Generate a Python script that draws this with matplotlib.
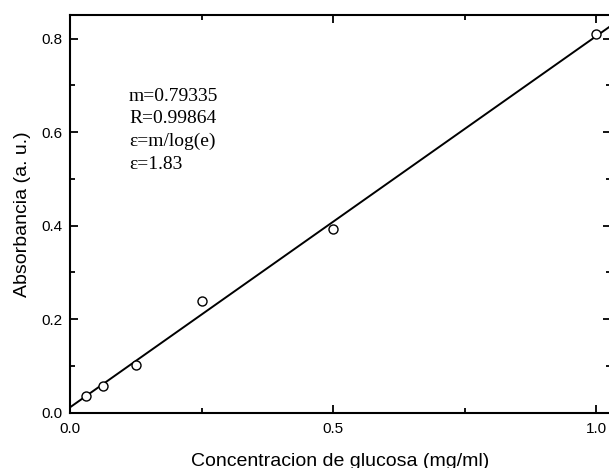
import numpy as np
import matplotlib
matplotlib.use("Agg")
import matplotlib.pyplot as plt
from matplotlib.ticker import MultipleLocator

# concentration (mg/ml) and absorbance
conc = [0.03125, 0.0625, 0.125, 0.25, 0.5, 1.0]
absorb = [0.035, 0.057, 0.103, 0.238, 0.392, 0.81]
fit_text = ["m=0.79335", "R=0.99864", "\u03b5=m/log(e)", "\u03b5=1.83"]

plt.rcParams['font.family'] = ['Liberation Sans', 'DejaVu Sans']

fig = plt.figure(figsize=(6.09, 4.68), dpi=100)
ax = fig.add_axes([70 / 609, 55.3 / 468, 541 / 609, 398 / 468])

slope, icpt = np.polyfit(conc, absorb, 1)
xmax = 1.0285
xs = np.array([0.0, xmax])
ax.plot(xs, 0.79335 * xs + icpt, color='black', lw=1.4)
ax.plot(conc, absorb, 'o', mfc='white', mec='black', ms=6.5, mew=1.0)

ax.set_xlim(0, xmax)
ax.set_ylim(0, 0.851)
ax.xaxis.set_major_locator(MultipleLocator(0.5))
ax.xaxis.set_minor_locator(MultipleLocator(0.25))
ax.yaxis.set_major_locator(MultipleLocator(0.2))
ax.yaxis.set_minor_locator(MultipleLocator(0.1))
ax.tick_params(which='both', direction='in', top=True, right=True,
               labelsize=11, width=1.3)
ax.tick_params(which='major', length=6)
ax.tick_params(which='minor', length=3.5)
ax.tick_params(axis='x', pad=7)
ax.tick_params(axis='y', pad=5.5)
for s in ax.spines.values():
    s.set_linewidth(1.5)

ax.set_xlabel("Concentracion de glucosa (mg/ml)", fontsize=14)
ax.set_ylabel("Absorbancia (a. u.)", fontsize=14)
ax.xaxis.set_label_coords(0.5, -0.1)
ax.yaxis.set_label_coords(-0.072, 0.5)

ax.text(0.109, 0.817, "\n".join(fit_text), family=['Liberation Serif'],
        fontsize=14, linespacing=1.44, va='top', ha='left',
        transform=ax.transAxes)

fig.savefig("out.png", dpi=100)
